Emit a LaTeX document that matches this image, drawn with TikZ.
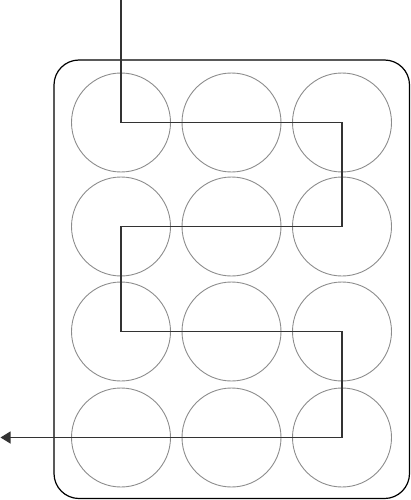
\documentclass[tikz,border=0pt]{standalone}
\usetikzlibrary{arrows.meta}
\begin{document}
\begin{tikzpicture}[x=1pt,y=-1pt,
  well/.style={circle,draw=black!45,line width=0.9pt,minimum size=99pt,inner sep=0pt},
  plate/.style={draw=black,line width=1.2pt,rounded corners=25pt},
  route/.style={draw=black!80,line width=1.2pt,-{Triangle[length=10pt,width=12pt]}}]
\useasboundingbox (0,0) rectangle (411,500);
\draw[plate] (54,60) rectangle (409.5,498.5);
\foreach \r/\y in {1/122.5,2/226.5,3/331.5,4/437.5}{
  \foreach \c/\x in {1/121,2/231.5,3/342}{
    \node[well] (w\r\c) at (\x,\y) {};
  }
}
\coordinate (start) at (121,0);
\coordinate (finish) at (0.5,437.5);
\draw[route] (start) -- (w11.center) -- (w13.center) -- (w23.center) -- (w21.center)
  -- (w31.center) -- (w33.center) -- (w43.center) -- (finish);
\end{tikzpicture}
\end{document}
